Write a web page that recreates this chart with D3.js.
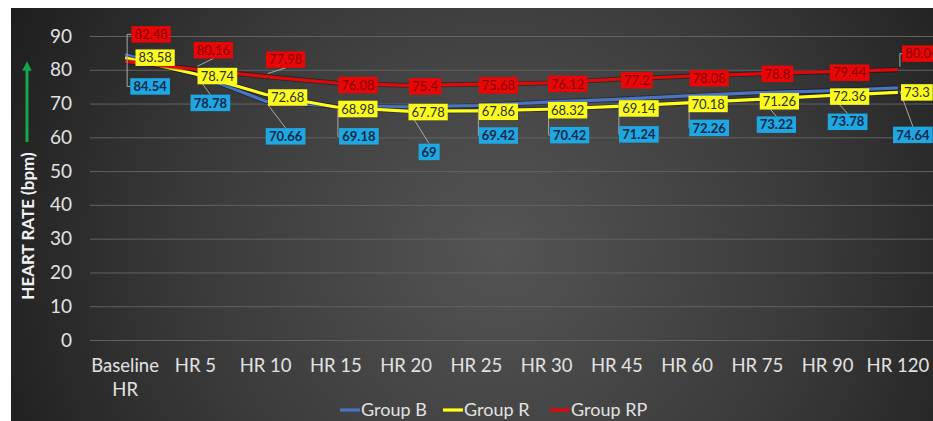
<!DOCTYPE html>
<html>
<head>
<meta charset="utf-8">
<script src="https://cdn.jsdelivr.net/npm/d3@7"></script>
<style>
  html, body { margin: 0; padding: 0; background: #ffffff; }
  svg { display: block; }
</style>
</head>
<body>
<svg id="chart" width="933" height="421"></svg>
<script>
// Heart rate over time for three study groups
const categories = ["Baseline HR", "HR 5", "HR 10", "HR 15", "HR 20", "HR 25",
                    "HR 30", "HR 45", "HR 60", "HR 75", "HR 90", "HR 120"];
const groupB  = [84.54, 78.78, 70.66, 69.18, 69, 69.42, 70.42, 71.24, 72.26, 73.22, 73.78, 74.64];
const groupR  = [83.58, 78.74, 72.68, 68.98, 67.78, 67.86, 68.32, 69.14, 70.18, 71.26, 72.36, 73.3];
const groupRP = [82.48, 80.16, 77.98, 76.08, 75.4, 75.68, 76.12, 77.2, 78.08, 78.8, 79.44, 80.04];
const yTicks  = [0, 10, 20, 30, 40, 50, 60, 70, 80, 90];
const seriesNames = ["Group B", "Group R", "Group RP"];

// Data-label placement: [dx, dy, leader] relative to each point
const layoutB = [[25,32,"elbowDown"],[15,29,"diag"],[20,35,"diag"],[23,30,"elbowDown"],[23,45,"diag"],
                 [22,30,"elbowDown"],[23,33,"elbowDown"],[22,35,"elbowDown"],[22,32,"elbowDown"],
                 [19,32,"diag"],[20,31,"diag"],[15,47,"diag"]];
const layoutR = [[30,0,""],[22,2,""],[22,3,""],[22,2,""],[22,1,""],[22,1,""],
                 [21,1,""],[22,2,""],[21,1,""],[22,2,""],[22,1,""],[19,0,""]];
const layoutRP = [[26,-27,"elbowUp"],[18,-19,"diag"],[20,-17,"diag"],[22,2,""],[19,1,""],[22,1,""],
                  [21,1,""],[20,1,""],[22,2,""],[20,0,""],[22,1,""],[24,-16,"elbowUp"]];

const series = [
  { name: seriesNames[0], values: groupB,  layout: layoutB,  line: "#4a74c2", box: "#1ea7e1", text: "#14284a", weight: 700 },
  { name: seriesNames[1], values: groupR,  layout: layoutR,  line: "#ffff1a", box: "#fbfb1e", text: "#2e2e2e", weight: 400 },
  { name: seriesNames[2], values: groupRP, layout: layoutRP, line: "#e10808", box: "#e80707", text: "#8a0000", weight: 400 }
];

const W = 933, H = 421;
const frame = { left: 11, top: 8 };
const plot = { left: 90, right: 933, top: 36, bottom: 340 };

const svg = d3.select("#chart");
const defs = svg.append("defs");

const grad = defs.append("radialGradient")
  .attr("id", "bg").attr("gradientUnits", "userSpaceOnUse")
  .attr("cx", 500).attr("cy", 250).attr("r", 560);
grad.append("stop").attr("offset", "0%").attr("stop-color", "#545454");
grad.append("stop").attr("offset", "55%").attr("stop-color", "#3a3a3a");
grad.append("stop").attr("offset", "100%").attr("stop-color", "#1c1c1c");

svg.append("rect").attr("x", 0).attr("y", 0).attr("width", W).attr("height", H).attr("fill", "#ffffff");
svg.append("rect").attr("x", frame.left).attr("y", frame.top)
  .attr("width", W - frame.left).attr("height", H - frame.top).attr("fill", "url(#bg)");

const x = d3.scaleBand().domain(categories).range([plot.left, plot.right]).padding(0);
const y = d3.scaleLinear().domain([0, 90]).range([plot.bottom, plot.top]);
const cx = c => x(c) + x.bandwidth() / 2;

const FONT = "Lato, 'Open Sans', sans-serif";

// Gridlines and y axis labels
const yAxis = d3.axisLeft(y).tickValues(yTicks).tickSize(-(plot.right - plot.left)).tickPadding(18);
const gy = svg.append("g").attr("transform", `translate(${plot.left},0)`).call(yAxis);
gy.select(".domain").remove();
gy.selectAll(".tick line").attr("stroke", "#626262").attr("stroke-width", 1);
gy.selectAll(".tick text").attr("fill", "#e2e2e2").attr("font-family", FONT).attr("font-size", 19);

// Category axis
const xAxis = d3.axisBottom(x).tickSize(0).tickPadding(19);
const gx = svg.append("g").attr("transform", `translate(0,${plot.bottom})`).call(xAxis);
gx.select(".domain").remove();
gx.selectAll(".tick text").attr("fill", "#e2e2e2").attr("font-family", FONT).attr("font-size", 18.5)
  .each(function (d) {
    const t = d3.select(this);
    const width = this.getComputedTextLength();
    if (width > x.bandwidth() - 6 && d.indexOf(" ") > 0) {
      const parts = d.split(" ");
      t.text(null);
      parts.forEach((p, i) => {
        t.append("tspan").attr("x", 0).attr("dy", i === 0 ? "0.71em" : "1.3em").text(p);
      });
      t.attr("dy", null);
    }
  });

// Y axis title with upward arrow
svg.append("text")
  .attr("transform", "translate(34,226) rotate(-90)")
  .attr("text-anchor", "middle")
  .attr("fill", "#f2f2f2").attr("font-family", FONT).attr("font-weight", 700).attr("font-size", 17)
  .text("HEART RATE (bpm)");
defs.append("marker").attr("id", "arrowHead").attr("viewBox", "0 0 10 10")
  .attr("refX", 5).attr("refY", 5).attr("markerWidth", 3.2).attr("markerHeight", 3.2)
  .attr("orient", "auto")
  .append("path").attr("d", "M0,0 L10,5 L0,10 z").attr("fill", "#14a64a");
svg.append("line").attr("x1", 27).attr("y1", 142).attr("x2", 27).attr("y2", 66)
  .attr("stroke", "#14a64a").attr("stroke-width", 3).attr("marker-end", "url(#arrowHead)");

// Series lines
const lineGen = d3.line().x((d, i) => cx(categories[i])).y(d => y(d));
const gLines = svg.append("g");
series.forEach(s => {
  gLines.append("path").datum(s.values).attr("d", lineGen)
    .attr("fill", "none").attr("stroke", "#000").attr("stroke-opacity", 0.35)
    .attr("stroke-width", 5).attr("stroke-linejoin", "round");
  gLines.append("path").datum(s.values).attr("d", lineGen)
    .attr("fill", "none").attr("stroke", s.line)
    .attr("stroke-width", 3.2).attr("stroke-linejoin", "round");
});

// Data labels with leader lines
const gLabels = svg.append("g");
series.forEach(s => {
  s.values.forEach((v, i) => {
    const px = cx(categories[i]), py = y(v);
    const [dx, dy, leader] = s.layout[i];
    const lx = px + dx, ly = py + dy;
    const g = gLabels.append("g");
    const leaderPath = g.append("path").attr("fill", "none").attr("stroke", "#a8a8a8").attr("stroke-width", 1);
    const t = g.append("text")
      .attr("x", lx).attr("y", ly).attr("dy", "0.36em")
      .attr("text-anchor", "middle")
      .attr("font-family", FONT).attr("font-size", 13).attr("font-weight", s.weight)
      .attr("fill", s.text).text(v);
    const bb = t.node().getBBox();
    const bw = bb.width + 6, bh = 16.5;
    const x0 = lx - bw / 2, y0 = ly - bh / 2;
    g.insert("rect", "text").attr("x", x0).attr("y", y0).attr("width", bw).attr("height", bh).attr("fill", s.box);
    if (leader === "elbowDown" || leader === "elbowUp") {
      const sx = px + 2;
      leaderPath.attr("d", `M${sx},${py + (leader === "elbowDown" ? 3 : -3)} V${ly} H${x0}`);
    } else if (leader === "diag") {
      const ty = dy > 0 ? y0 : y0 + bh;
      leaderPath.attr("d", `M${px + 2},${py + (dy > 0 ? 3 : -3)} L${lx},${ty}`);
    }
  });
});

// Legend
const legend = svg.append("g").attr("transform", "translate(340,410)");
const legendX = [0, 103, 210];
series.forEach((s, i) => {
  const g = legend.append("g").attr("transform", `translate(${legendX[i]},0)`);
  g.append("line").attr("x1", 0).attr("x2", 20).attr("y1", 0).attr("y2", 0)
    .attr("stroke", s.line).attr("stroke-width", 3.2);
  g.append("text").attr("x", 21).attr("y", 0).attr("dy", "0.35em")
    .attr("fill", "#e2e2e2").attr("font-family", FONT).attr("font-size", 18).text(s.name);
});
</script>
</body>
</html>
